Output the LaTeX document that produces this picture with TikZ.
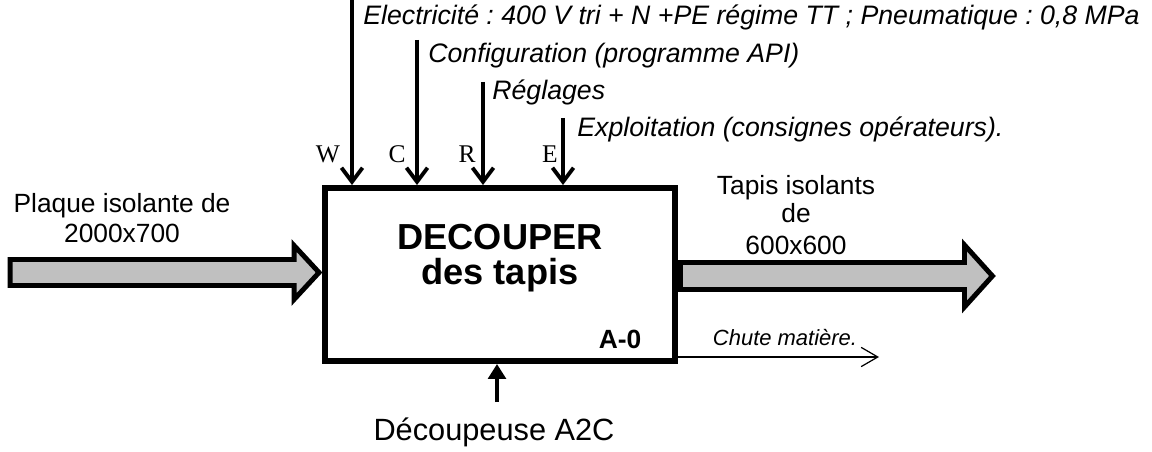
\documentclass[tikz,border=0pt]{standalone}
\usepackage{fontspec}
\setmainfont{Liberation Sans}
\newfontfamily\serifletters{Liberation Serif}
\usetikzlibrary{arrows.meta, positioning, calc}
\definecolor{flowGray}{RGB}{192,192,192}
\frenchspacing
\tikzset{
    funcbox/.style={
        rectangle,
        draw=black,
        line width=3.4pt,
        minimum width=7cm,
        minimum height=3.46cm
    },
    flowarrow/.style={draw=black, fill=flowGray, line width=2.8pt, line join=miter},
    ctrlarrow/.style={-{Straight Barb[length=8pt, width=12pt]}, line width=2.2pt},
    mecharrow/.style={-{Triangle[length=8.5pt, width=10pt]}, line width=2.6pt},
    thinarrow/.style={-{Straight Barb[length=9.5pt, width=11pt]}, line width=0.7pt},
    ctrltext/.style={font=\fontsize{15.2}{18}\selectfont\itshape, inner sep=0pt, anchor=base west},
    lettertext/.style={font=\serifletters\fontsize{14.5}{16}\selectfont, inner sep=0pt, anchor=base},
    flowtext/.style={font=\fontsize{15}{17}\selectfont, inner sep=0pt, anchor=base},
    titletext/.style={font=\fontsize{20.6}{24}\selectfont\bfseries, inner sep=0pt, anchor=base}
}
\begin{document}
\begin{tikzpicture}[x=0.02cm, y=-0.02cm]
        \useasboundingbox (0,0) rectangle (1152,452);
        \node[funcbox] (box) at (500,274.5) {};
        \node[titletext] (title) at (500,250) {DECOUPER};
        \node[titletext] (subtitle) at (500,285) {des tapis};
        \node[font=\fontsize{15}{17}\selectfont\bfseries, inner sep=0pt, anchor=base] (ref) at (620,348) {A-0};

        \coordinate (wTop) at (352,0);
        \coordinate (cTop) at (417,40);
        \coordinate (rTop) at (483,82);
        \coordinate (eTop) at (563,118);
        \draw[ctrlarrow] (wTop) -- (wTop |- box.north);
        \draw[ctrlarrow] (cTop) -- (cTop |- box.north);
        \draw[ctrlarrow] (rTop) -- (rTop |- box.north);
        \draw[ctrlarrow] (eTop) -- (eTop |- box.north);

        \node[ctrltext] (elec) at (363,25) {Electricité : 400 V tri + N +PE régime TT ; Pneumatique : 0,8 MPa};
        \node[ctrltext] (config) at (428,63) {Configuration (programme API)};
        \node[ctrltext] (regl) at (492,100) {Réglages};
        \node[ctrltext] (exploit) at (577,137) {Exploitation (consignes opérateurs).};

        \node[lettertext] (lw) at (328,163) {W};
        \node[lettertext] (lc) at (397,163) {C};
        \node[lettertext] (lr) at (467,163) {R};
        \node[lettertext] (le) at (550,163) {E};

        \coordinate (inTip) at ($(box.west)+(-3,-2)$);
        \draw[flowarrow] (inTip) -- ++(-25,-27) -- ++(0,14) -- ++(-284,0) -- ++(0,26) -- ++(284,0) -- ++(0,14) -- cycle;
        \node[flowtext] (inLbl) at (122,213) {Plaque isolante de};
        \node[flowtext] (inDim) at (122,243) {2000x700};

        \coordinate (outTail) at ($(box.east)+(2.5,1.5)$);
        \draw[flowarrow] (outTail) -- ++(0,-13.5) -- ++(284,0) -- ++(0,-17.5) -- ++(28,31) -- ++(-28,31) -- ++(0,-17.5) -- ++(-284,0) -- cycle;
        \node[flowtext] (outLbl) at (796,195) {Tapis isolants};
        \node[flowtext] (outDe) at (796,223) {de};
        \node[flowtext] (outDim) at (796,255) {600x600};

        \coordinate (chuteEnd) at (879,357);
        \draw[thinarrow] (box.east |- chuteEnd) -- (chuteEnd);
        \node[font=\fontsize{12.5}{15}\selectfont\itshape, inner sep=0pt, anchor=base] (chute) at (785,345) {Chute matière.};

        \coordinate (mecBase) at (497,402);
        \draw[mecharrow] (mecBase) -- (mecBase |- box.south);
        \node[flowtext, font=\fontsize{17.5}{20}\selectfont] (mec) at (494,440) {Découpeuse A2C};
    \end{tikzpicture}
\end{document}
